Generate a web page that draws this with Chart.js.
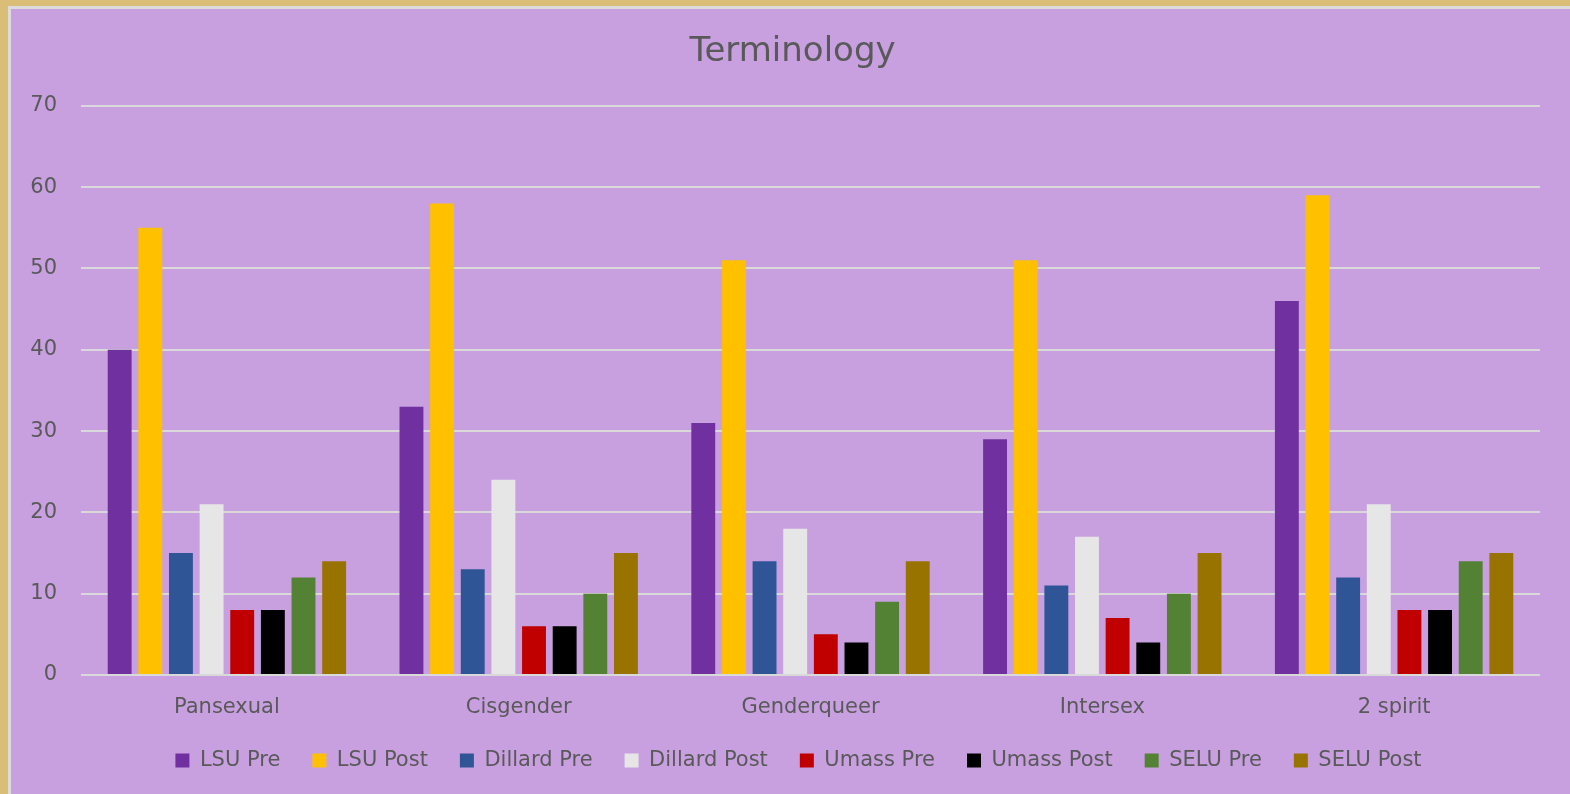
<!DOCTYPE html>
<html>
<head>
<meta charset="utf-8">
<script src="https://cdn.jsdelivr.net/npm/chart.js@4"></script>
<style>
  body { margin: 0; background: #DABD76; }
  #wrap {
    position: absolute; left: 8px; top: 6px;
    width: 1559px; height: 785px;
    border-left: 3px solid #DCDCDC; border-top: 3px solid #DCDCDC;
    background: #C8A0E0;
  }
</style>
</head>
<body>
<div id="wrap"><canvas id="chart" width="1559" height="785"></canvas></div>
<script>
const categories = ['Pansexual', 'Cisgender', 'Genderqueer', 'Intersex', '2 spirit'];
const seriesNames = ['LSU Pre', 'LSU Post', 'Dillard Pre', 'Dillard Post', 'Umass Pre', 'Umass Post', 'SELU Pre', 'SELU Post'];
const lsuPre = [40, 33, 31, 29, 46];
const lsuPost = [55, 58, 51, 51, 59];
const dillardPre = [15, 13, 14, 11, 12];
const dillardPost = [21, 24, 18, 17, 21];
const umassPre = [8, 6, 5, 7, 8];
const umassPost = [8, 6, 4, 4, 8];
const seluPre = [12, 10, 9, 10, 14];
const seluPost = [14, 15, 14, 15, 15];
const colors = ['#7030A0', '#FFC000', '#2F5597', '#E7E6E6', '#C00000', '#000000', '#548235', '#997300'];

const values = [lsuPre, lsuPost, dillardPre, dillardPost, umassPre, umassPost, seluPre, seluPost];
const textColor = '#595959';
const fontFamily = '"DejaVu Sans", Verdana, sans-serif';

const ctx = document.getElementById('chart').getContext('2d');

// one dataset per series
const datasets = seriesNames.map((name, i) => ({
  label: name,
  data: values[i],
  backgroundColor: colors[i],
  borderWidth: 0,
  barPercentage: 0.78,
  categoryPercentage: 0.84
}));

// nudge title and legend a bit to the right, like the original
const shiftBoxes = {
  id: 'shiftBoxes',
  afterLayout(chart) {
    chart.legend.left += 23;
    chart.legend.right += 23;
    chart.titleBlock.left += 17;
    chart.titleBlock.right += 17;
  }
};

new Chart(ctx, {
  type: 'bar',
  data: { labels: categories, datasets: datasets },
  plugins: [shiftBoxes],
  options: {
    responsive: false,
    animation: false,
    layout: { padding: { left: 0, right: 30, top: 0, bottom: 13 } },
    plugins: {
      title: {
        display: true,
        text: 'Terminology',
        color: textColor,
        font: { family: fontFamily, size: 34, weight: 'normal' },
        padding: { top: 23, bottom: 33 }
      },
      legend: {
        position: 'bottom',
        labels: {
          color: textColor,
          font: { family: fontFamily, size: 21 },
          boxWidth: 14,
          boxHeight: 14,
          padding: 32
        }
      },
      tooltip: { enabled: false }
    },
    scales: {
      x: {
        grid: { display: false },
        border: { display: false },
        ticks: { color: textColor, font: { family: fontFamily, size: 21 }, padding: 12 },
        afterFit: (scale) => { scale.height = 43; }
      },
      y: {
        min: 0,
        max: 70,
        ticks: { stepSize: 10, color: textColor, font: { family: fontFamily, size: 21 }, padding: 24 },
        grid: { color: '#D9D9D9', lineWidth: 2, drawTicks: false },
        border: { display: false },
        afterFit: (scale) => { scale.width = 70; }
      }
    }
  }
});
</script>
</body>
</html>
